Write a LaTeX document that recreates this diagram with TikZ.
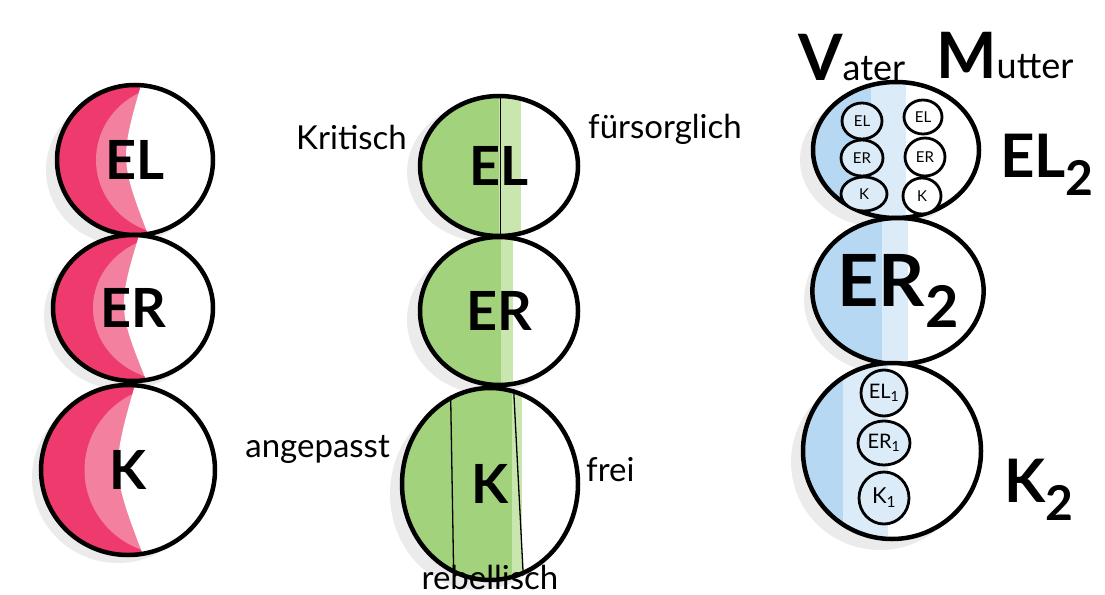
\documentclass[tikz,border=0pt]{standalone}
\usepackage{fontspec}
\setmainfont{Lato}
\usetikzlibrary{shapes.geometric}
\definecolor{pinkD}{HTML}{EE3A6C}
\definecolor{pinkM}{HTML}{F3809F}
\definecolor{greenM}{HTML}{A2D27C}
\definecolor{greenL}{HTML}{C8E6AE}
\definecolor{blueM}{HTML}{B7D8F2}
\definecolor{blueL}{HTML}{DCEBF8}
\definecolor{shadowgray}{HTML}{EBEBEB}
\newcommand\lowidx[1]{\raisebox{-0.3em}{\scalebox{0.8}{#1}}}
\begin{document}
\begin{tikzpicture}[x=1pt,y=-1pt,
  ring/.style={ellipse, draw=black, line width=4.5pt, inner sep=0pt, fill=white},
  inring/.style={ellipse, draw=black, line width=2.8pt, inner sep=0pt, fill=white,
                 font=\fontsize{15}{16}\selectfont},
  bigtxt/.style={font=\fontsize{54}{60}\selectfont\bfseries},
  lbl/.style={font=\fontsize{33}{36}\selectfont, inner sep=0pt},
  pinkfill/.style 2 args={path picture={
    \coordinate (pc) at (path picture bounding box.center);
    \fill[pinkD] (path picture bounding box.south west) rectangle (path picture bounding box.north east);
    \fill[pinkM] ([xshift={0.5*#1pt}]pc) ellipse ({#1pt} and {#2pt});
    \fill[white] ([xshift={0.1*#1pt},yshift={#2pt+6pt}]pc)
       .. controls ([xshift={-0.2*#1pt}]pc) .. ([xshift={0.2*#1pt},yshift={-#2pt-6pt}]pc)
       -- ([xshift={#1pt+6pt},yshift={-#2pt-6pt}]pc) -- ([xshift={#1pt+6pt},yshift={#2pt+6pt}]pc) -- cycle;
  }},
  greenfill/.style n args={3}{path picture={
    \coordinate (pc) at (path picture bounding box.center);
    \fill[greenM] (path picture bounding box.south west) rectangle (path picture bounding box.north east);
    \fill[greenL] ([xshift={#2*#1pt}]pc |- path picture bounding box.north) rectangle (path picture bounding box.south east);
    \fill[white] ([xshift={#3*#1pt}]pc |- path picture bounding box.north) rectangle (path picture bounding box.south east);
  }},
  bluefill/.style n args={3}{path picture={
    \coordinate (pc) at (path picture bounding box.center);
    \fill[blueM] (path picture bounding box.south west) rectangle (path picture bounding box.north east);
    \fill[blueL] ([xshift={#2*#1pt}]pc |- path picture bounding box.north) rectangle (path picture bounding box.south east);
    \fill[white] ([xshift={#3*#1pt}]pc |- path picture bounding box.north) rectangle (path picture bounding box.south east);
  }}
]
\useasboundingbox (0,0) rectangle (1105,594);

% shadows
\fill[shadowgray] (124,170) ellipse (78pt and 75pt);
\fill[shadowgray] (124,316) ellipse (80pt and 74pt);
\fill[shadowgray] (118,478) ellipse (86pt and 85pt);
\fill[shadowgray] (487,172) ellipse (80pt and 70pt);
\fill[shadowgray] (487,320) ellipse (80pt and 74pt);
\fill[shadowgray] (478,494) ellipse (88pt and 96pt);
\fill[shadowgray] (884,160) ellipse (84pt and 68pt);
\fill[shadowgray] (886,300) ellipse (82pt and 73pt);
\fill[shadowgray] (880,462) ellipse (89pt and 88pt);

% column 1 (pink)
\node[ring, minimum width=156pt, minimum height=150pt, pinkfill={78}{75}, bigtxt] (r1) at (135,160) {EL};
\node[ring, minimum width=160pt, minimum height=146pt, pinkfill={80}{73}, bigtxt] (r2) at (133,308) {ER};
\node[ring, minimum width=174pt, minimum height=170pt, pinkfill={87}{85}, bigtxt] (r3) at (128,470) {K};

% column 2 (green)
\node[ring, minimum width=158pt, minimum height=140pt, greenfill={79}{0}{0.28}, bigtxt] (g1) at (499,166) {EL};
\node[ring, minimum width=158pt, minimum height=148pt, greenfill={79}{0.02}{0.18}, bigtxt] (g2) at (499,311) {ER};
\node[ring, minimum width=176pt, minimum height=192pt, greenfill={88}{0.25}{0.36}, bigtxt] (g3) at (490,484) {K};
\draw[line width=1.3pt] (g1.89) -- (g1.271);
\draw[line width=1.3pt] (g3.114) -- (g3.248);
\draw[line width=1.3pt] (g3.76) -- (g3.290);

\node[lbl, anchor=south east] (kri) at (407,150) {Kritisch};
\node[lbl, anchor=south west] (fue) at (588,145) {fürsorglich};
\node[lbl, anchor=south east] (ang) at (390,464) {angepasst};
\node[lbl, anchor=south west] (fre) at (586,482) {frei};
\node[lbl, anchor=base] (reb) at (490,589) {rebellisch};

% column 3 (blue)
\node[ring, minimum width=166pt, minimum height=136pt, bluefill={83}{-0.3}{0.12}] (b1) at (896,150) {};
\node[ring, minimum width=164pt, minimum height=146pt, bluefill={82}{-0.2}{0.12},
      font=\fontsize{72}{80}\selectfont\bfseries] (b2) at (898,291) {ER\lowidx{2}};
\node[ring, minimum width=178pt, minimum height=176pt, bluefill={89}{-0.55}{-0.05}] (b3) at (892,451) {};

\node[inring, fill=blueL, minimum width=40pt, minimum height=36pt] (v1) at (862,121) {EL};
\node[inring, fill=blueL, minimum width=42pt, minimum height=36pt] (v2) at (862,158) {ER};
\node[inring, fill=blueL, minimum width=46pt, minimum height=34pt] (v3) at (864,194) {K};
\node[inring, minimum width=38pt, minimum height=34pt] (m1) at (923,117) {EL};
\node[inring, minimum width=40pt, minimum height=38pt] (m2) at (925,157) {ER};
\node[inring, minimum width=38pt, minimum height=36pt] (m3) at (922,196) {K};

\node[inring, fill=blueL, minimum width=46pt, minimum height=46pt, font=\fontsize{20}{22}\selectfont] (k1) at (884,393) {EL\textsubscript{1}};
\node[inring, fill=blueL, minimum width=52pt, minimum height=44pt, font=\fontsize{20}{22}\selectfont] (k2) at (884,443) {ER\textsubscript{1}};
\node[inring, fill=blueL, minimum width=50pt, minimum height=52pt, font=\fontsize{22}{24}\selectfont] (k3) at (884,498) {K\textsubscript{1}};

\node[anchor=base west, inner sep=0pt] (vat) at (798,80) {\fontsize{64}{66}\selectfont\bfseries V\fontsize{36}{38}\selectfont\mdseries ater};
\node[anchor=base west, inner sep=0pt] (mut) at (936,78) {\fontsize{64}{66}\selectfont\bfseries M\fontsize{36}{38}\selectfont\mdseries utter};
\node[anchor=west, inner sep=0pt, font=\fontsize{60}{64}\selectfont\bfseries] (el2) at (1000,165) {EL\lowidx{2}};
\node[anchor=west, inner sep=0pt, font=\fontsize{60}{64}\selectfont\bfseries] (k2l) at (1004,490) {K\lowidx{2}};
\end{tikzpicture}
\end{document}
